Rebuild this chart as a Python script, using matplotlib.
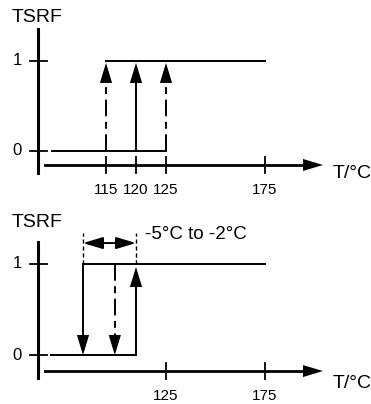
import numpy as np
import matplotlib.pyplot as plt

plt.rcParams['font.family'] = ['Liberation Sans', 'DejaVu Sans']
plt.rcParams['lines.scale_dashes'] = False

# upper diagram: switch-on temperatures (min / typ / max)
top_ticks = [115, 120, 125, 175]
top_on = [115, 120, 125]
top_on_dashed = [True, False, True]
top_low_start = 106
top_high_end = 175

# lower diagram: switch-off hysteresis
bot_ticks = [125, 175]
bot_on = 120
bot_off = [115, 118]
bot_off_dashed = [False, True]
bot_low_start = 112
bot_high_end = 175
hyst_text = '-5°C to -2°C'

levels = [0, 1]
ylabel = 'TSRF'
xlabel = 'T/°C'

# schematic (non-linear) temperature axis: anchor temps -> pixel column
top_anchor_t = [97.3, 115, 125, 175, 228.5]
top_anchor_x = [0, 106, 166, 265, 371]
bot_anchor_t = [107.2, 115, 120, 125, 175, 228.5]
bot_anchor_x = [0, 83, 136, 166, 265, 371]

W, H = 371, 404
dash = (0, (12, 4, 5, 4))
head = '-|>,head_length=0.72,head_width=0.22'

fig = plt.figure(figsize=(W / 100, H / 100), dpi=100)


def make_panel(rect, at, ax_px, ylim):
    ax = fig.add_axes(rect)
    at = np.array(at, float)
    xp = np.array(ax_px, float)
    ax.set_xscale('function', functions=(lambda t: np.interp(t, at, xp),
                                         lambda x: np.interp(x, xp, at)))
    ax.set_xlim(at[0], at[-1])
    ax.set_ylim(*ylim)
    ax.axis('off')
    return ax


def draw_axes(ax, yax, xax, ticks, tick_y, ylab_y, xlab_y):
    yt = ax.get_yaxis_transform()
    # vertical axis + ticks at 0 and 1
    ax.plot([38 / W, 38 / W], yax, color='k', lw=2.2, transform=yt, clip_on=False)
    for lv in levels:
        ax.plot([30 / W, 47 / W], [lv, lv], color='k', lw=1.3, transform=yt)
        ax.text(17 / W, lv, str(lv), transform=yt, ha='center', va='center',
                fontsize=12)
    ax.text(37 / W, ylab_y, ylabel, transform=yt, ha='center', va='center',
            fontsize=14)
    # horizontal axis with arrow
    ax.plot([45 / W, 305 / W], [xax, xax], color='k', lw=2, transform=yt)
    ax.annotate('', xy=(323 / W, xax), xytext=(303 / W, xax), xycoords=yt,
                textcoords=yt,
                arrowprops=dict(arrowstyle='-|>,head_length=1.0,head_width=0.3',
                                mutation_scale=14.4, color='k', lw=0,
                                shrinkA=0, shrinkB=0))
    ax.text(333 / W, xlab_y, xlabel, transform=yt, ha='left', va='center',
            fontsize=14)
    for t in ticks:
        ax.plot([t, t], [xax - 0.088, xax + 0.088], color='k', lw=1.3)
        ax.text(t, tick_y, str(t), ha='center', va='center', fontsize=11)


def arrow_head(ax, t, tip, up=True):
    off = -14.4 if up else 14.4
    ax.annotate('', xy=(t, tip), xytext=(0, off), textcoords='offset points',
                arrowprops=dict(arrowstyle=head, mutation_scale=20, color='k',
                                lw=0, shrinkA=0, shrinkB=0))


# ---- upper panel ----
ax1 = make_panel([0, 204 / H, 1, 200 / H], top_anchor_t, top_anchor_x,
                 (-0.543, 1.672))
draw_axes(ax1, (-0.244, 1.351), -0.155, top_ticks, -0.43, 1.48, -0.244)
ax1.plot([top_low_start, max(top_on)], [0, 0], color='k', lw=1.4)
ax1.plot([min(top_on), top_high_end], [1, 1], color='k', lw=1.4)
for t, d in zip(top_on, top_on_dashed):
    ax1.plot([t, t], [0, 0.85], color='k', lw=1.4,
             linestyle=dash if d else '-')
    arrow_head(ax1, t, 0.975, up=True)

# ---- lower panel ----
ax2 = make_panel([0, 0, 1, 204 / H], bot_anchor_t, bot_anchor_x,
                 (-0.538, 1.703))
draw_axes(ax2, (-0.253, 1.242), -0.176, bot_ticks, -0.445, 1.46, -0.31)
ax2.plot([bot_low_start, bot_on], [0, 0], color='k', lw=1.4)
ax2.plot([min(bot_off), bot_high_end], [1, 1], color='k', lw=1.4)
for t, d in zip(bot_off, bot_off_dashed):
    ax2.plot([t, t], [1, 0.15], color='k', lw=1.4,
             linestyle=dash if d else '-')
    arrow_head(ax2, t, 0, up=False)
ax2.plot([bot_on, bot_on], [0, 0.85], color='k', lw=1.4)
arrow_head(ax2, bot_on, 0.967, up=True)

# hysteresis span
for t in (min(bot_off), bot_on):
    ax2.plot([t, t], [1, 1.34], color='k', lw=1, linestyle=(0, (3, 2)))
ax2.annotate('', xy=(bot_on, 1.23), xytext=(min(bot_off), 1.23),
             arrowprops=dict(arrowstyle='<|-|>,head_length=0.6,head_width=0.18',
                             mutation_scale=20, color='k', lw=1.4,
                             shrinkA=0, shrinkB=0))
ax2.text(145 / W, 1.32, hyst_text, transform=ax2.get_yaxis_transform(),
         ha='left', va='center', fontsize=13.5)

fig.savefig('out.png', dpi=100)
